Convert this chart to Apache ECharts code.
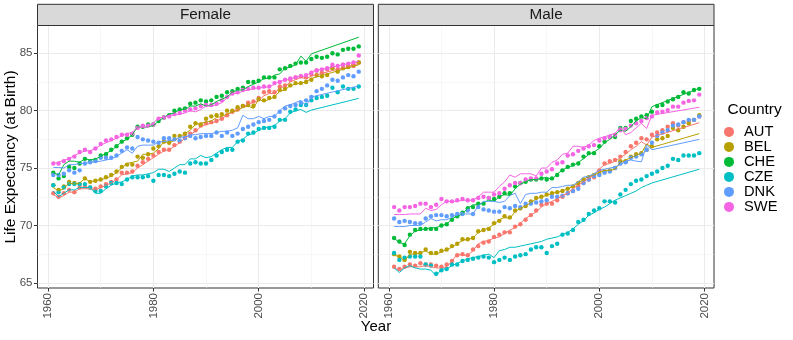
<!DOCTYPE html>
<html>
<head>
<meta charset="utf-8">
<script src="https://cdn.jsdelivr.net/npm/echarts@6/dist/echarts.min.js"></script>
<style>html,body{margin:0;padding:0;background:#fff}#c{width:793px;height:340px}</style>
</head>
<body>
<div id="c"></div>
<script>
// ---- data ----
const countries = ['AUT','BEL','CHE','CZE','DNK','SWE'];
const colors = ['#F8766D','#B79F00','#00BA38','#00BFC4','#619CFF','#F564E3'];
const panels = ['Female','Male'];
const xTicks = [1960,1980,2000,2020];
const xMinorTicks = [1970,1990,2010];
const yTicks = [65,70,75,80,85];
const yMinorTicks = [67.5,72.5,77.5,82.5];

const years = [1961,1962,1963,1964,1965,1966,1967,1968,1969,1970,
  1971,1972,1973,1974,1975,1976,1977,1978,1979,1980,
  1981,1982,1983,1984,1985,1986,1987,1988,1989,1990,
  1991,1992,1993,1994,1995,1996,1997,1998,1999,2000,
  2001,2002,2003,2004,2005,2006,2007,2008,2009,2010,
  2011,2012,2013,2014,2015,2016,2017,2018,2019];
const lineYears = [1961,1962,1963,1964,1965,1966,1967,1968,1969,1970,
  1971,1972,1973,1974,1975,1976,1977,1978,1979,1980,
  1981,1982,1983,1984,1985,1986,1987,1988,1989,1990,
  1991,1992,1993,1994,1995,1996,1997,1998,1999,2000,
  2001,2002,2003,2004,2005,2006,2007,2008,2009,2010,2019];

// observed (points) - Female
const F_AUT = [72.8,72.5,72.8,73.1,72.9,73.3,73.4,73.3,73.2,73.4, 73.6,73.8,74.0,74.6,74.6,74.7,75.2,75.5,75.8,76.1, 76.4,76.6,76.6,77.0,77.3,77.7,78.0,78.3,78.7,78.9, 79.0,79.1,79.3,79.6,79.9,80.1,80.4,80.7,80.8,81.1, 81.6,81.7,81.6,82.1,82.2,82.7,82.9,83.0,82.9,83.2, 83.5,83.3,83.6,83.8,83.6,84.0,83.9,83.9,84.2];
const F_BEL = [73.5,73.1,73.4,73.8,73.7,73.6,74.1,73.8,73.9,74.0, 74.2,74.4,74.7,75.1,75.3,75.3,76.0,75.9,76.2,76.7, 76.9,77.3,77.2,77.8,77.8,78.0,78.6,78.9,78.8,79.3, 79.5,79.6,79.7,80.0,80.0,80.3,80.4,80.5,80.4,81.0, 80.9,81.1,81.2,81.8,81.9,82.2,82.4,82.4,82.5,82.7, 83.1,83.0,83.1,83.7,83.4,83.7,83.8,84.0,84.2];
const F_CHE = [74.6,74.1,74.3,75.1,75.0,75.4,75.8,75.6,75.7,76.1, 76.2,76.6,76.9,77.3,77.6,77.9,78.6,78.6,78.8,78.8, 79.1,79.4,79.6,80.0,80.1,80.2,80.6,80.7,80.9,80.8, 80.9,81.2,81.3,81.6,81.7,81.9,82.0,82.5,82.5,82.6, 82.9,82.9,82.9,83.6,83.7,83.9,84.1,84.2,84.2,84.5, 84.7,84.6,84.7,85.0,84.9,85.3,85.4,85.4,85.6];
const F_CZE = [73.5,72.9,73.3,73.6,73.6,73.6,73.6,73.3,73.0,73.0, 73.4,73.7,73.7,73.6,74.0,74.2,74.2,74.2,74.3,73.9, 74.4,74.4,74.3,74.5,74.7,74.6,75.4,75.5,75.4,75.4, 75.7,76.1,76.4,76.6,76.6,77.3,77.4,78.0,78.1,78.4, 78.5,78.5,78.6,79.2,79.2,79.9,80.1,80.5,80.5,80.9, 81.1,81.2,81.3,82.0,81.6,82.1,81.9,81.9,82.1];
const F_DNK = [74.4,74.4,74.5,74.8,74.6,74.8,75.4,75.5,75.6,75.9, 75.9,75.9,76.1,76.5,76.8,76.7,77.7,77.5,77.4,77.3, 77.2,77.6,77.6,77.5,77.4,77.6,77.8,77.6,77.7,77.8, 77.8,78.1,77.8,78.1,77.8,78.0,78.4,78.6,78.8,79.0, 79.1,79.2,79.5,79.9,80.2,80.4,80.5,80.7,80.9,81.2, 81.7,81.9,82.2,82.7,82.6,82.9,83.1,83.0,83.4];
const F_SWE = [75.4,75.4,75.6,75.8,76.0,76.4,76.6,76.4,76.7,77.1, 77.4,77.5,77.7,77.9,77.9,78.0,78.5,78.7,78.7,78.8, 79.3,79.4,79.5,79.7,79.8,80.0,80.1,80.2,80.4,80.5, 80.5,80.6,80.9,81.2,81.5,81.6,81.8,81.9,82.0,82.0, 82.1,82.1,82.4,82.5,82.7,82.8,82.9,83.0,83.1,83.3, 83.5,83.6,83.7,84.0,83.9,84.0,84.1,84.2,84.8];

// observed (points) - Male
const M_AUT = [66.4,66.2,66.4,66.6,66.5,66.7,66.6,66.6,66.5,66.4, 66.6,66.9,67.4,67.5,67.4,67.9,68.2,68.5,68.6,69.0, 69.2,69.4,69.4,69.9,70.1,70.5,70.9,71.3,71.8,71.9, 71.9,72.2,72.5,72.8,73.0,73.4,73.7,74.0,74.2,74.8, 75.4,75.6,75.7,76.0,76.4,76.9,77.2,77.6,77.5,77.9, 78.1,78.3,78.6,78.9,78.7,79.0,79.1,79.2,79.5];
const M_BEL = [67.5,67.3,67.0,67.7,67.6,67.6,67.9,67.6,67.6,67.8, 67.9,68.2,68.4,68.8,68.8,68.9,69.5,69.6,69.7,70.2, 70.4,70.8,70.7,71.3,71.5,71.7,72.1,72.4,72.5,72.7, 72.8,72.9,73.0,73.2,73.4,73.7,74.0,74.2,74.4,74.5, 74.7,74.8,75.0,75.6,75.6,76.0,76.2,76.3,76.6,76.9, 77.5,77.6,77.8,78.5,78.3,78.6,78.9,79.2,79.6];
const M_CHE = [68.9,68.6,68.3,69.2,69.6,69.7,69.7,69.7,69.7,70.0, 70.1,70.5,70.8,71.1,71.5,71.6,71.9,71.9,72.4,72.3, 72.5,72.8,72.8,73.4,73.7,73.8,74.0,74.0,74.1,74.0, 74.1,74.4,74.8,75.1,75.3,75.4,76.0,76.3,76.3,76.9, 77.3,77.7,77.7,78.5,78.5,79.1,79.3,79.5,79.6,79.9, 80.4,80.5,80.8,81.0,81.2,81.6,81.5,81.8,81.9];
const M_CZE = [67.6,67.0,67.2,67.3,67.3,67.3,66.6,66.5,65.8,66.1, 66.2,66.6,66.6,66.9,67.0,67.1,67.2,67.3,67.2,66.8, 67.0,67.2,67.0,67.3,67.4,67.5,67.9,68.1,68.1,67.6, 68.2,68.4,69.2,69.3,69.6,70.3,70.5,71.0,71.3,71.5, 72.1,72.1,72.0,72.7,73.1,73.6,73.9,74.0,74.3,74.5, 74.7,75.0,75.2,75.8,75.7,76.1,76.1,76.1,76.3];
const M_DNK = [70.6,70.3,70.4,70.3,70.2,70.2,70.6,70.8,70.9,70.9, 70.8,70.9,71.0,71.0,71.3,71.0,71.6,71.4,71.3,71.2, 71.2,71.6,71.5,71.7,71.6,71.9,71.9,72.0,72.1,72.2, 72.5,72.5,72.6,72.8,73.0,73.2,73.7,74.0,74.3,74.4, 74.6,74.7,75.0,75.4,75.5,75.9,76.0,76.2,76.6,77.2, 77.8,78.1,78.3,78.7,78.8,79.0,79.2,79.2,79.5];
const M_SWE = [71.6,71.3,71.6,71.6,71.7,71.9,71.9,71.6,71.8,72.3, 72.1,72.1,72.2,72.3,72.2,72.2,72.4,72.5,72.4,72.7, 72.8,73.2,73.5,73.7,73.7,74.0,74.1,74.1,74.5,74.7, 74.9,75.4,75.5,76.1,76.2,76.5,76.7,76.9,77.0,77.4, 77.6,77.7,77.9,78.3,78.4,78.7,78.9,79.1,79.35,79.5, 79.85,79.9,80.05,80.35,80.35,80.7,80.85,80.9,81.4];

// fitted / projected (lines) - Female  (1961..2010, 2019)
const LF_AUT = [72.7,72.4,72.6,72.9,72.9,73.2,73.2,73.2,73.1,73.3, 73.5,73.7,74.0,74.4,74.5,74.6,75.0,75.3,75.6,75.9, 76.2,76.5,76.6,76.9,77.2,77.6,77.9,78.2,78.6,78.8, 78.9,79.1,79.3,79.6,79.9,80.1,80.3,80.6,80.7,80.9, 81.3,81.5,81.5,82.0,82.1,82.5,82.7,82.9,82.8,83.0, 84.1];
const LF_BEL = [73.3,73.0,73.2,73.7,73.6,73.7,74.1,73.8,73.9,74.0, 74.1,74.3,74.6,75.0,75.4,75.5,75.6,76.2,76.2,76.3, 76.7,77.3,77.2,77.4,77.7,78.0,78.3,78.8,78.9,79.0, 79.1,79.4,79.5,79.7,79.9,80.0,80.3,80.4,80.2,81.0, 80.8,81.0,81.2,81.7,81.8,82.2,82.3,82.4,82.5,82.8, 84.0];
const LF_CHE = [74.6,74.4,75.3,75.6,75.6,75.5,75.8,75.7,75.8,76.0, 76.3,76.5,76.9,77.3,77.5,77.9,78.6,78.5,78.6,78.7, 79.1,79.4,79.7,79.8,80.1,80.1,80.4,80.4,80.6,80.4, 80.5,80.8,81.0,81.2,81.6,81.8,81.8,82.1,82.3,82.5, 82.8,82.8,83.1,83.2,83.7,83.8,84.0,84.75,84.3,84.95, 86.4];
const LF_CZE = [73.0,72.5,72.8,73.1,73.1,73.3,73.3,73.3,72.8,72.8, 73.2,73.5,73.7,73.8,74.0,74.3,74.4,74.4,74.5,74.6, 74.9,74.9,74.7,75.0,75.3,75.3,75.8,75.8,76.1,75.9, 76.0,76.3,76.6,76.8,76.8,77.3,77.5,77.9,78.0,78.3, 78.5,78.6,78.7,79.1,79.3,79.8,80.0,80.1,79.85,80.05, 81.07];
const LF_DNK = [75.05,75.05,75.0,75.3,75.3,75.4,75.4,75.5,75.55,75.6, 75.7,75.8,76.0,76.3,76.6,76.3,76.9,77.0,77.0,77.0, 77.3,77.3,77.4,77.4,77.7,77.7,77.9,77.9,78.0,78.0, 78.0,78.1,78.2,78.2,78.3,78.5,79.6,79.3,79.3,79.5, 79.3,79.5,79.5,80.0,80.4,80.5,80.7,80.9,80.4,81.2, 82.15];
const LF_SWE = [75.4,75.5,75.7,75.8,76.1,76.3,76.5,76.5,76.7,77.0, 77.2,77.4,77.6,77.8,78.0,78.1,78.6,78.5,78.6,78.9, 79.4,79.4,79.6,79.6,79.7,79.8,80.0,79.9,80.1,80.4, 80.4,80.5,80.7,81.1,81.5,81.5,81.7,81.8,81.9,82.0, 82.0,82.1,82.3,82.6,82.6,82.8,82.9,83.0,83.0,83.4, 84.3];

// fitted / projected (lines) - Male  (1961..2010, 2019)
const LM_AUT = [66.3,66.1,66.3,66.4,66.4,66.4,66.5,66.4,66.3,66.3, 66.4,66.9,67.5,67.4,67.4,67.8,68.4,68.6,68.7,68.9, 69.0,69.3,69.6,69.8,70.2,70.6,70.9,71.2,71.6,71.9, 72.1,72.3,72.6,72.8,73.2,73.5,73.8,74.1,74.4,74.9, 75.3,75.4,75.6,75.9,76.2,76.6,76.9,77.3,77.0,77.7, 78.95];
const LM_BEL = [67.4,67.3,66.9,67.5,67.5,67.6,67.8,67.5,67.5,67.7, 67.9,68.1,68.4,68.7,68.8,68.9,69.4,69.6,69.8,70.1, 70.5,70.7,70.6,71.2,71.5,71.7,72.0,72.3,72.5,72.6, 72.8,72.9,73.0,73.2,73.4,73.7,74.0,74.3,74.4,74.6, 74.8,74.8,74.9,75.5,75.7,75.9,76.1,76.3,77.1,76.8, 78.0];
const LM_CHE = [68.9,68.5,68.4,69.1,69.5,69.6,69.7,69.8,69.8,70.0, 70.1,70.6,70.8,71.0,71.5,71.8,71.8,72.0,72.2,72.1, 72.5,72.7,72.6,73.2,73.6,73.8,74.0,74.0,74.1,74.2, 74.0,74.5,74.8,75.1,75.2,75.5,75.8,76.2,76.4,76.7, 77.2,77.5,77.9,78.3,78.2,78.6,79.1,79.4,79.3,80.35, 81.95];
const LM_CZE = [66.3,65.9,66.3,66.5,66.3,66.2,66.2,66.1,65.6,66.2, 66.2,66.5,66.7,66.9,67.1,67.2,67.3,67.4,67.5,67.2, 67.8,67.9,68.1,68.1,68.2,68.3,68.4,68.5,68.6,68.8, 68.9,69.0,69.2,69.4,69.7,70.1,70.4,70.9,71.1,71.4, 71.6,71.9,72.2,72.4,72.6,72.8,73.0,73.3,73.5,73.7, 74.9];
const LM_DNK = [69.9,69.9,69.9,70.0,70.0,70.0,70.3,70.6,70.4,70.5, 70.5,70.7,71.0,71.0,71.0,71.0,71.7,72.1,72.1,72.1, 72.0,72.1,72.6,72.8,71.9,72.7,72.8,72.8,72.9,72.9, 73.3,73.3,73.4,73.5,73.5,73.8,74.2,74.3,74.5,74.8, 74.9,75.0,75.1,75.3,75.6,75.7,75.6,75.55,77.0,76.6, 77.5];
const LM_SWE = [70.95,70.95,70.95,71.0,71.0,71.0,71.5,71.3,71.4,71.8, 72.1,72.1,72.1,72.2,72.2,72.2,72.5,72.9,72.9,72.9, 73.4,73.8,74.4,74.2,74.5,74.5,74.5,74.3,75.0,75.0, 75.5,75.7,76.2,76.3,76.9,76.9,76.8,77.0,77.4,77.6, 77.7,77.9,78.0,78.6,77.9,78.1,78.5,78.9,78.45,79.6, 80.3];

const pointsBy = [[F_AUT,F_BEL,F_CHE,F_CZE,F_DNK,F_SWE],[M_AUT,M_BEL,M_CHE,M_CZE,M_DNK,M_SWE]];
const linesBy = [[LF_AUT,LF_BEL,LF_CHE,LF_CZE,LF_DNK,LF_SWE],[LM_AUT,LM_BEL,LM_CHE,LM_CZE,LM_DNK,LM_SWE]];

// ---- chart ----
const FONT = '"Liberation Sans", Arial, Helvetica, sans-serif';
const X_MIN = 1958.0, X_MAX = 2021.8, Y_MIN = 64.55, Y_MAX = 87.42;
const gridDefs = [
  {left: 37.5, top: 25.5, width: 336, height: 262.5},
  {left: 378.3, top: 25.5, width: 335.7, height: 262.5}
];

const grids = gridDefs.map(g => Object.assign({show: true, borderColor: '#333333', borderWidth: 1, backgroundColor: '#fff', containLabel: false}, g));
const xAxes = [], yAxes = [];
gridDefs.forEach((g, gi) => {
  xAxes.push({gridIndex: gi, type: 'value', min: X_MIN, max: X_MAX,
    axisLine: {show: false},
    axisTick: {show: true, customValues: xTicks, length: 3.5, lineStyle: {color: '#333333', width: 1}},
    axisLabel: {show: true, customValues: xTicks, rotate: 90, margin: 5, color: '#4D4D4D', fontSize: 11.5, fontFamily: FONT,
      formatter: v => String(Math.round(v))},
    splitLine: {show: true, lineStyle: {color: '#EBEBEB', width: 1}}});
  xAxes.push({gridIndex: gi, type: 'value', min: X_MIN, max: X_MAX,
    axisLine: {show: false}, axisTick: {show: false, customValues: xMinorTicks}, axisLabel: {show: false},
    splitLine: {show: true, lineStyle: {color: '#F2F2F2', width: 0.6}}});
  yAxes.push({gridIndex: gi, type: 'value', min: Y_MIN, max: Y_MAX,
    axisLine: {show: false},
    axisTick: {show: gi === 0, customValues: yTicks, length: 3.5, lineStyle: {color: '#333333', width: 1}},
    axisLabel: {show: gi === 0, customValues: yTicks, margin: 5, color: '#4D4D4D', fontSize: 11.5, fontFamily: FONT,
      formatter: v => String(Math.round(v))},
    splitLine: {show: true, lineStyle: {color: '#EBEBEB', width: 1}}});
  yAxes.push({gridIndex: gi, type: 'value', min: Y_MIN, max: Y_MAX,
    axisLine: {show: false}, axisTick: {show: false, customValues: yMinorTicks}, axisLabel: {show: false},
    splitLine: {show: true, lineStyle: {color: '#F2F2F2', width: 0.6}}});
});

const series = [];
panels.forEach((p, pi) => {
  countries.forEach((c, ci) => {
    series.push({type: 'scatter', name: c, xAxisIndex: pi * 2, yAxisIndex: pi * 2,
      symbol: 'circle', symbolSize: 4.4, itemStyle: {color: colors[ci], opacity: 1},
      data: years.map((y, i) => [y, pointsBy[pi][ci][i]]), z: 3, silent: true});
  });
});
panels.forEach((p, pi) => {
  countries.forEach((c, ci) => {
    series.push({type: 'line', name: c, xAxisIndex: pi * 2, yAxisIndex: pi * 2,
      showSymbol: false, symbol: 'none', lineStyle: {color: colors[ci], width: 1}, itemStyle: {color: colors[ci]},
      data: lineYears.map((y, i) => [y, linesBy[pi][ci][i]]), z: 4, silent: true});
  });
});

const graphics = [];
panels.forEach((p, pi) => {
  const g = gridDefs[pi];
  graphics.push({type: 'rect', shape: {x: g.left, y: 4.3, width: g.width, height: 21.2},
    style: {fill: '#D9D9D9', stroke: '#333333', lineWidth: 1}, z: 10});
  graphics.push({type: 'text', x: g.left + g.width / 2, y: 15.2,
    style: {text: p, fill: '#1A1A1A', font: '15.3px ' + FONT, align: 'center', verticalAlign: 'middle'}, z: 11});
});
graphics.push({type: 'text', x: 11, y: 157, rotation: Math.PI / 2,
  style: {text: 'Life Expectancy (at Birth)', fill: '#000', font: '15.5px ' + FONT, align: 'center', verticalAlign: 'middle'}});
graphics.push({type: 'text', x: 376, y: 327,
  style: {text: 'Year', fill: '#000', font: '15px ' + FONT, align: 'center', verticalAlign: 'middle'}});
graphics.push({type: 'text', x: 727.5, y: 110,
  style: {text: 'Country', fill: '#000', font: '15.5px ' + FONT, align: 'left', verticalAlign: 'middle'}});

const chart = echarts.init(document.getElementById('c'), null, {renderer: 'canvas'});
chart.setOption({
  animation: false,
  backgroundColor: '#ffffff',
  grid: grids,
  xAxis: xAxes,
  yAxis: yAxes,
  legend: {orient: 'vertical', left: 724, top: 124.4, itemWidth: 20, itemHeight: 10, itemGap: 0,
    selectedMode: false, padding: 0,
    data: countries.map(c => ({name: c, icon: 'circle'})),
    textStyle: {fontSize: 14.7, lineHeight: 14.6, color: '#000', fontFamily: FONT}},
  graphic: graphics,
  series: series
});
</script>
</body>
</html>
